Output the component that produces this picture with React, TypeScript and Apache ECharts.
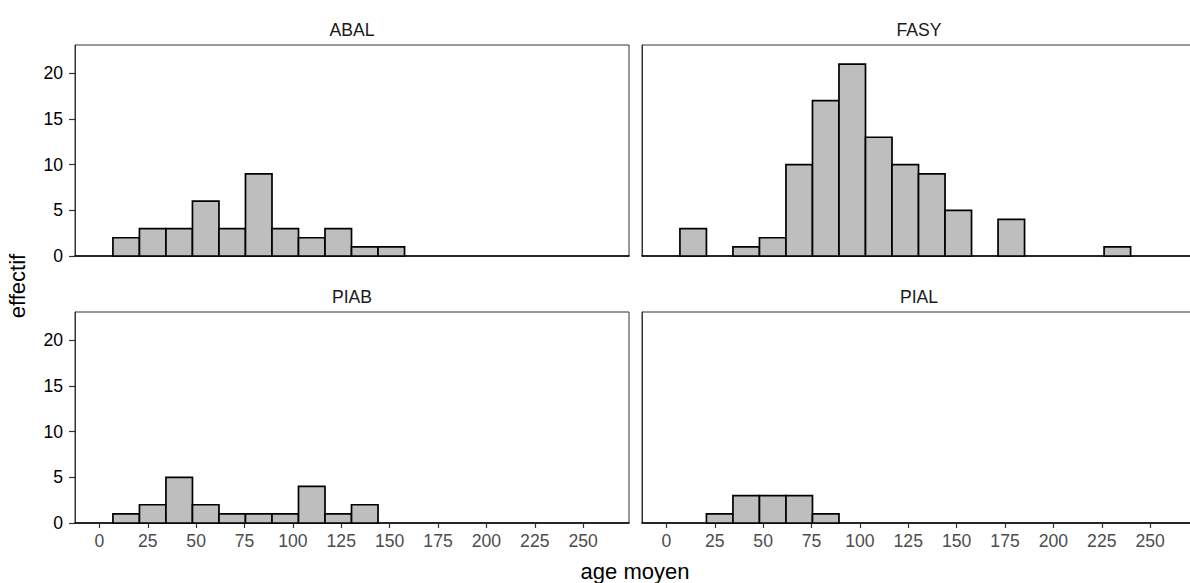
import React, { useEffect, useRef } from "react";
import * as echarts from "echarts";

const facetNames = ["ABAL", "FASY", "PIAB", "PIAL"];
const binEdges = [7, 20.7, 34.4, 48.1, 61.8, 75.5, 89.2, 102.9, 116.6, 130.3, 144, 157.7, 171.4, 185.1, 198.8, 212.5, 226.2, 239.9];
const countsABAL = [2, 3, 3, 6, 3, 9, 3, 2, 3, 1, 1, 0, 0, 0, 0, 0, 0];
const countsFASY = [3, 0, 1, 2, 10, 17, 21, 13, 10, 9, 5, 0, 4, 0, 0, 0, 1];
const countsPIAB = [1, 2, 5, 2, 1, 1, 1, 4, 1, 2, 0, 0, 0, 0, 0, 0, 0];
const countsPIAL = [0, 1, 3, 3, 3, 1, 0, 0, 0, 0, 0, 0, 0, 0, 0, 0, 0];
const xTickValues = [0, 25, 50, 75, 100, 125, 150, 175, 200, 225, 250];
const yTickValues = [0, 5, 10, 15, 20];
const xTitle = "age moyen";
const yTitle = "effectif";

const FONT = "'Liberation Sans', Arial, Helvetica, sans-serif";

export default function App() {
  const ref = useRef<HTMLDivElement>(null);
  useEffect(() => {
    if (!ref.current) return;
    const chart = echarts.init(ref.current, undefined, { renderer: "svg" });
    const allCounts = [countsABAL, countsFASY, countsPIAB, countsPIAL];
    const lefts = [75, 642, 75, 642];
    const tops = [45, 45, 312, 312];
    const W = 554;
    const H = 211;
    const xMin = -12.6;
    const xMax = 273.7;
    // right-hand panels run past the picture's edge; extend them with the same scale
    const extraW = 16;
    const widths = [W, W + extraW, W, W + extraW];
    const xMaxes = widths.map((w) => xMin + ((xMax - xMin) * w) / W);

    const grids = allCounts.map((_, i) => ({
      left: lefts[i],
      top: tops[i],
      width: widths[i],
      height: H,
      outerBoundsMode: "none",
      containLabel: false,
      show: true,
      borderColor: "#333",
      borderWidth: 1,
      backgroundColor: "transparent",
    }));

    const xAxes = allCounts.map((_, i) => {
      const bottom = i >= 2;
      return {
        gridIndex: i,
        type: "value",
        min: xMin,
        max: xMaxes[i],
        splitLine: { show: false },
        axisLine: { show: true, onZero: false, lineStyle: { color: "#000", width: 1.6 } },
        axisTick: { show: bottom, customValues: xTickValues, length: 5, lineStyle: { color: "#333", width: 1.2 } },
        axisLabel: { show: bottom, customValues: xTickValues, color: "#4d4d4d", fontSize: 17.6, margin: 9, fontFamily: FONT },
      };
    });

    const yAxes = allCounts.map((_, i) => {
      const left = i % 2 === 0;
      return {
        gridIndex: i,
        type: "value",
        min: 0,
        max: 23.1,
        splitLine: { show: false },
        axisLine: { show: true, onZero: false, lineStyle: { color: "#333", width: 1 } },
        axisTick: { show: left, customValues: yTickValues, length: 6, lineStyle: { color: "#333", width: 1.2 } },
        axisLabel: { show: left, customValues: yTickValues, color: "#000", fontSize: 17.6, margin: 12, fontFamily: FONT },
      };
    });

    const series = allCounts.map((counts, i) => ({
      type: "custom",
      xAxisIndex: i,
      yAxisIndex: i,
      encode: { x: [0, 1], y: 2 },
      data: counts
        .map((c, k) => [binEdges[k], binEdges[k + 1], c])
        .filter((d) => d[2] > 0),
      renderItem: (params: any, api: any) => {
        const x0 = api.value(0);
        const x1 = api.value(1);
        const c = api.value(2);
        const p0 = api.coord([x0, 0]);
        const p1 = api.coord([x1, c]);
        return {
          type: "rect",
          shape: { x: p0[0], y: p1[1], width: p1[0] - p0[0], height: p0[1] - p1[1] },
          style: { fill: "#bebebe", stroke: "#000", lineWidth: 1.7 },
        };
      },
    }));

    const stripTexts = facetNames.map((name, i) => ({
      type: "text",
      x: lefts[i] + W / 2,
      y: tops[i] - 15,
      style: {
        text: name,
        fill: "#1a1a1a",
        font: `17.6px ${FONT}`,
        textAlign: "center",
        textVerticalAlign: "middle",
      },
    }));

    chart.setOption({
      animation: false,
      backgroundColor: "#fff",
      grid: grids,
      xAxis: xAxes,
      yAxis: yAxes,
      series,
      graphic: [
        ...stripTexts,
        {
          type: "text",
          x: 635,
          y: 571,
          style: {
            text: xTitle,
            fill: "#000",
            font: `22px ${FONT}`,
            textAlign: "center",
            textVerticalAlign: "middle",
          },
        },
        {
          type: "text",
          x: 17,
          y: 286,
          rotation: Math.PI / 2,
          style: {
            text: yTitle,
            fill: "#000",
            font: `22px ${FONT}`,
            textAlign: "center",
            textVerticalAlign: "middle",
          },
        },
      ],
    });
    return () => chart.dispose();
  }, []);
  return (
    <div
      ref={ref}
      style={{ position: "fixed", left: 0, top: 0, width: 1190, height: 583, background: "#fff", overflow: "hidden" }}
    />
  );
}
